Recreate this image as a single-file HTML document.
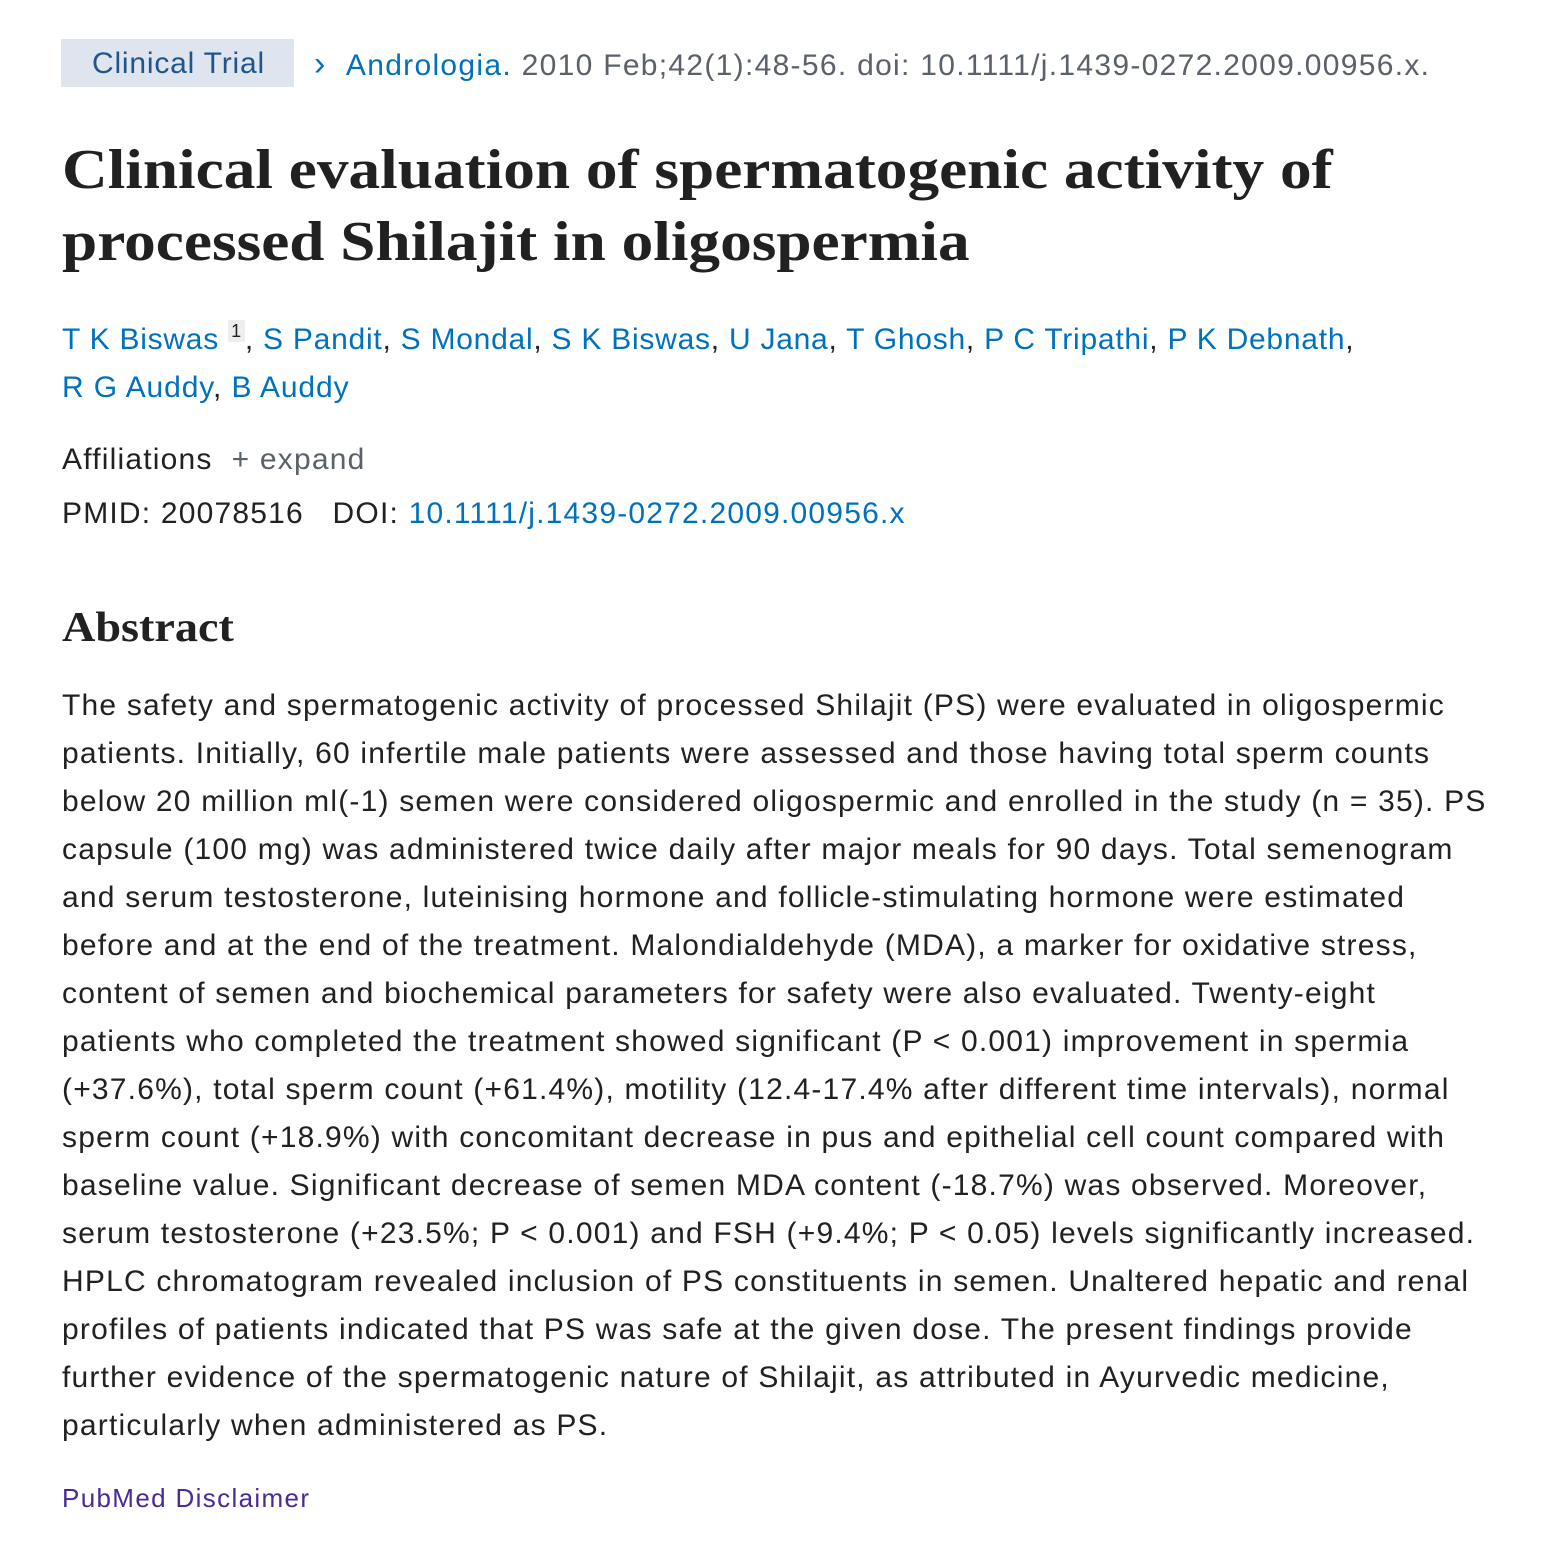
<!DOCTYPE html>
<html><head><meta charset="utf-8"><style>
html,body{margin:0;padding:0;background:#fff;width:1546px;height:1556px;overflow:hidden}
body{font-family:"Liberation Sans",Arial,sans-serif;color:#212121;position:relative}
.l{position:absolute;left:62px;white-space:nowrap;font-size:30px;line-height:48px;letter-spacing:1.2px}
a{color:#0071bc;text-decoration:none}
.t{font-family:"Liberation Serif",serif;font-weight:bold;font-size:56px;line-height:72px;color:#212121;position:absolute;left:62px;white-space:nowrap;transform:scaleX(1.13);transform-origin:left top}
</style></head><body>
<div style="position:absolute;left:61px;top:39px;width:233px;height:48px;background:#dfe5ee"></div>
<div class="l" style="left:92px;top:40px;color:#20558a;letter-spacing:0.8px">Clinical Trial</div>
<div class="l" style="left:314px;top:40px;color:#5b616b;letter-spacing:1.3px"><span style="color:#0071bc;font-size:34px">&#x203A;</span>&nbsp;&nbsp;<a>Andrologia.</a> 2010 Feb;42(1):48-56. doi: 10.1111/j.1439-0272.2009.00956.x.</div>
<div class="t" style="top:134px">Clinical evaluation of spermatogenic activity of</div>
<div class="t" style="top:206px">processed Shilajit in oligospermia</div>
<div class="l" style="top:316px;letter-spacing:0.75px"><a>T K Biswas</a> <span style="display:inline-block;font-size:18px;line-height:22px;background:#eee;padding:0 3px;position:relative;top:-12px">1</span>, <a>S Pandit</a>, <a>S Mondal</a>, <a>S K Biswas</a>, <a>U Jana</a>, <a>T Ghosh</a>, <a>P C Tripathi</a>, <a>P K Debnath</a>,</div>
<div class="l" style="top:364px;letter-spacing:0.9px"><a>R G Auddy</a>, <a>B Auddy</a></div>
<div class="l" style="top:436px">Affiliations &nbsp;<span style="color:#5b616b">+ expand</span></div>
<div class="l" style="top:490px">PMID: 20078516 &nbsp;&nbsp;DOI: <a>10.1111/j.1439-0272.2009.00956.x</a></div>
<div class="t" style="top:598px;font-size:42px;line-height:60px;transform:scaleX(1.1)">Abstract</div>
<div class="l" style="top:682px">The safety and spermatogenic activity of processed Shilajit (PS) were evaluated in oligospermic</div>
<div class="l" style="top:730px">patients. Initially, 60 infertile male patients were assessed and those having total sperm counts</div>
<div class="l" style="top:778px">below 20 million ml(-1) semen were considered oligospermic and enrolled in the study (n = 35). PS</div>
<div class="l" style="top:826px">capsule (100 mg) was administered twice daily after major meals for 90 days. Total semenogram</div>
<div class="l" style="top:874px">and serum testosterone, luteinising hormone and follicle-stimulating hormone were estimated</div>
<div class="l" style="top:922px">before and at the end of the treatment. Malondialdehyde (MDA), a marker for oxidative stress,</div>
<div class="l" style="top:970px">content of semen and biochemical parameters for safety were also evaluated. Twenty-eight</div>
<div class="l" style="top:1018px">patients who completed the treatment showed significant (P &lt; 0.001) improvement in spermia</div>
<div class="l" style="top:1066px">(+37.6%), total sperm count (+61.4%), motility (12.4-17.4% after different time intervals), normal</div>
<div class="l" style="top:1114px">sperm count (+18.9%) with concomitant decrease in pus and epithelial cell count compared with</div>
<div class="l" style="top:1162px">baseline value. Significant decrease of semen MDA content (-18.7%) was observed. Moreover,</div>
<div class="l" style="top:1210px">serum testosterone (+23.5%; P &lt; 0.001) and FSH (+9.4%; P &lt; 0.05) levels significantly increased.</div>
<div class="l" style="top:1258px">HPLC chromatogram revealed inclusion of PS constituents in semen. Unaltered hepatic and renal</div>
<div class="l" style="top:1306px">profiles of patients indicated that PS was safe at the given dose. The present findings provide</div>
<div class="l" style="top:1354px">further evidence of the spermatogenic nature of Shilajit, as attributed in Ayurvedic medicine,</div>
<div class="l" style="top:1402px">particularly when administered as PS.</div>
<div class="l" style="top:1474px;font-size:26px;color:#4b2a95;letter-spacing:1.35px">PubMed Disclaimer</div>
</body></html>
